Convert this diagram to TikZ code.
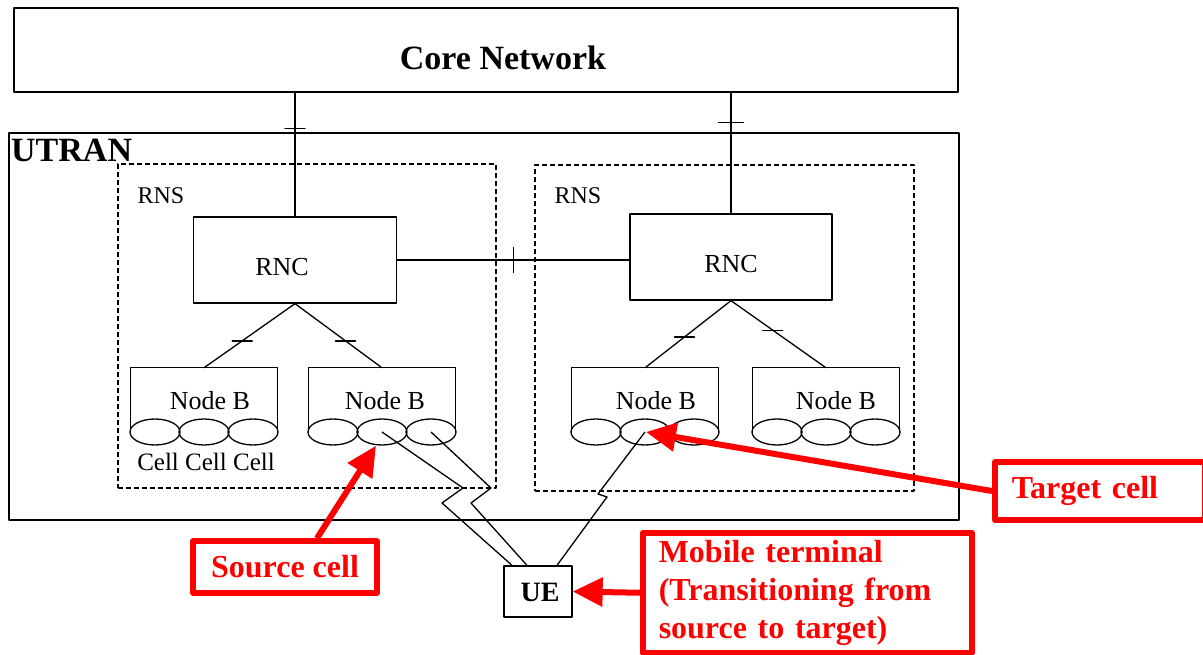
\documentclass[tikz,border=0pt]{standalone}
\usepackage{fontspec}
\setmainfont{Liberation Serif}
\usetikzlibrary{arrows.meta,shapes.geometric}

\tikzset{
  wire/.style={line width=1.3pt},
  box/.style={draw, line width=1.3pt, inner sep=0pt},
  rnsbox/.style={draw, line width=1.3pt, dash pattern=on 5pt off 3pt, inner sep=0pt},
  nbbox/.style={minimum width=147pt, minimum height=64pt, inner sep=0pt},
  cell/.style={draw, ellipse, line width=1.3pt, minimum width=50pt, minimum height=26pt, inner sep=0pt},
  htick/.style={draw, line width=1.3pt, minimum width=20pt, minimum height=0pt, inner sep=0pt},
  vtick/.style={draw, line width=1.3pt, minimum height=25pt, minimum width=0pt, inner sep=0pt},
  callout/.style={draw=red, line width=5.5pt, inner ysep=4pt, text=red,
    font=\fontsize{32}{38}\selectfont\bfseries, align=left},
  redarrow/.style={draw=red, line width=6pt, -{Triangle[length=30pt,width=28pt]}},
}

\begin{document}
\begin{tikzpicture}[x=1pt,y=-1pt,line join=round,
  txt/.style={font=\fontsize{26}{30}\selectfont, inner sep=0pt},
  big/.style={font=\fontsize{34}{40}\selectfont\bfseries, inner sep=0pt}]
\useasboundingbox (0,0) rectangle (1203,655);
\clip (0,0) rectangle (1203,655);

% core network and UTRAN
\node[box, minimum width=944pt, minimum height=84pt] (core) at (486,50) {};
\node[big] (corelbl) at (503,58) {Core Network};
\node[box, minimum width=950pt, minimum height=387pt] (utran) at (484,326.5) {};
\node[big, anchor=north west] (utranlbl) at (11,139) {UTRAN};

% the two RNS
\node[rnsbox, minimum width=378pt, minimum height=324pt] (lrns) at (307,326) {};
\node[rnsbox, minimum width=379pt, minimum height=326pt] (rrns) at (724.5,328) {};
\node[txt, font=\fontsize{24}{28}\selectfont] (lrnslbl) at (161,196) {RNS};
\node[txt, font=\fontsize{24}{28}\selectfont] (rrnslbl) at (578,196) {RNS};

\node[box, minimum width=203pt, minimum height=86pt] (lrnc) at (295,260) {};
\node[txt] (lrnclbl) at (282,267) {RNC};
\node[box, minimum width=202pt, minimum height=86pt] (rrnc) at (731,257) {};
\node[txt] (rrnclbl) at (731,264) {RNC};

% Node B with its cells
\foreach \n/\x/\t in {A/204/210,B/382/385,C/645/656,D/826/836}{
  \node[nbbox] (nb\n) at (\x,400) {};
  \draw[wire] (nb\n.south west) |- (nb\n.north) -| (nb\n.south east);
  \foreach \k/\dx in {1/-49,2/0,3/49}
    \node[cell] (nb\n\k) at (\x+\dx,432) {};
  \node[txt] (nb\n lbl) at (\t,401) {Node B};
}
\node[txt, font=\fontsize{25}{29}\selectfont] (celllbl) at (206,462) {Cell Cell Cell};

\node[box, minimum width=68pt, minimum height=51pt] (ue) at (538,591.5) {};
\node[txt, font=\fontsize{28}{32}\selectfont\bfseries] (uelbl) at (540,592) {UE};

% interfaces
\draw[wire] (core.south -| lrnc.north) -- node[htick, pos=.29]{} (lrnc.north);
\draw[wire] (core.south -| rrnc.north) -- node[htick, pos=.25, minimum width=25pt]{} (rrnc.north);
\draw[wire] (lrnc.east) -- node[vtick, pos=.5]{} (lrnc.east -| rrnc.west);
\draw[wire] (lrnc.south) -- node[htick, pos=.58]{} (nbA.north);
\draw[wire] (lrnc.south) -- node[htick, pos=.58]{} (nbB.north);
\draw[wire] (rrnc.south) -- node[htick, pos=.54]{} (nbC.north);
\draw[wire] (rrnc.south) -- node[htick, pos=.44]{} (nbD.north);

% radio links
\draw[wire] (nbB2.center) -- ++(81,56) -- ++(-21,15) -- ([xshift=-26pt]ue.north);
\draw[wire] (nbB3.center) -- ++(60,56) -- ++(-20,15) -- ([xshift=-11pt]ue.north);
\draw[wire] (nbC2.center) -- ++(-47,62) -- ++(9,3) -- ([xshift=19pt]ue.north);

% callouts
\node[callout, minimum width=184pt, minimum height=52pt] (src) at (285,567) {Source cell};
\node[callout, anchor=west, minimum height=58pt, text width=176pt, inner xsep=17pt] (tgt) at (992,491) {Target cell};
\node[callout, anchor=north west, minimum height=120pt, text width=297pt, inner xsep=16pt] (mob) at (640,530)
  {Mobile terminal\\(Transitioning from\\source to target)};

\draw[redarrow] ([xshift=32pt]src.north) -- ([xshift=-6pt]nbB2.south);
\draw[redarrow] (tgt.west) -- ([xshift=1pt]nbC2.center);
\draw[redarrow] (mob.west) -- (ue.east);
\end{tikzpicture}
\end{document}
